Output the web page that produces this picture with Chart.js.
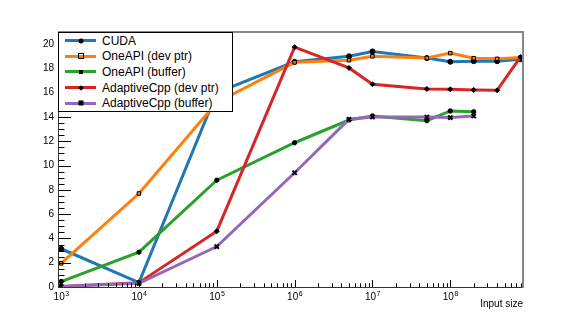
<!DOCTYPE html>
<html>
<head>
<meta charset="utf-8">
<script src="https://cdn.jsdelivr.net/npm/chart.js@4.4.0/dist/chart.umd.min.js"></script>
<style>
  body { margin: 0; background: #fff; }
  #wrap { position: relative; width: 581px; height: 319px; }
  #legend {
    position: absolute; left: 58px; top: 32px; width: 173px; height: 78px;
    border: 1px solid #000; background: #fff;
    font: 12px "Liberation Sans", Arial, sans-serif; color: #000;
  }
  .row { height: 15.6px; display: flex; align-items: center; white-space: nowrap; }
  .sample { position: relative; width: 31px; height: 3px; margin: 0 6px 0 6px; }
  .mk { position: absolute; left: 50%; top: 50%; width: 5px; height: 5px; background: #000; transform: translate(-50%, -50%); box-sizing: border-box; }
  .mk.circle { border-radius: 50%; }
  .mk.open { background: transparent; border: 1px solid #000; width: 6px; height: 6px; }
  .mk.star { width: 4px; height: 4px; }
  .mk.diamond { width: 4px; height: 4px; transform: translate(-50%, -50%) rotate(45deg); }
</style>
</head>
<body>
<div id="wrap">
  <canvas id="chart" width="581" height="319"></canvas>
  <div id="legend"></div>
</div>
<script>
// input sizes (x) and measured values per backend
const sizes = [1e3, 1e4, 1e5, 1e6, 5e6, 1e7, 5e7, 1e8, 2e8, 4e8, 8e8];
const cuda = [3.15, 0.36, 16.0, 18.55, 19.0, 19.4, 18.85, 18.55, 18.6, 18.6, 18.75];
const oneapiPtr = [1.95, 7.7, 15.2, 18.5, 18.68, 19.0, 18.86, 19.26, 18.84, 18.79, 18.9];
const oneapiBuf = [0.45, 2.87, 8.8, 11.88, 13.75, 14.08, 13.7, 14.5, 14.44];
const acppPtr = [0.05, 0.36, 4.6, 19.75, 18.04, 16.7, 16.31, 16.28, 16.23, 16.2, 18.95];
const acppBuf = [0.05, 0.3, 3.33, 9.41, 13.81, 14.0, 14.0, 13.95, 14.08];

const seriesNames = ['CUDA', 'OneAPI (dev ptr)', 'OneAPI (buffer)', 'AdaptiveCpp (dev ptr)', 'AdaptiveCpp (buffer)'];
const seriesValues = [cuda, oneapiPtr, oneapiBuf, acppPtr, acppBuf];
const colors = ['#1f77b4', '#ff7f0e', '#2ca02c', '#d62728', '#9467bd'];
const markers = ['circle', 'rect', 'star', 'rectRot', 'crossRot'];
const legendMarks = ['circle', 'open', 'star', 'diamond', ''];

const xTickValues = [1e3, 1e4, 1e5, 1e6, 1e7, 1e8];
const xTickBase = '10';
const xTickExps = ['3', '4', '5', '6', '7', '8'];
const yTickValues = [0, 2, 4, 6, 8, 10, 12, 14, 16, 18, 20];

const datasets = seriesValues.map(function (vals, i) {
  return {
    label: seriesNames[i],
    data: vals.map(function (v, j) { return { x: sizes[j], y: v }; }),
    borderColor: colors[i],
    borderWidth: 3,
    pointStyle: markers[i],
    pointRadius: i === 4 ? 3 : 2.5,
    pointBorderColor: '#000',
    pointBackgroundColor: i === 1 ? colors[1] : '#000',
    pointBorderWidth: (i === 2 || i === 4) ? 2 : 1,
    tension: 0,
    order: 4 - i
  };
});

const fontFam = '"Liberation Sans", Arial, sans-serif';

// inward ticks, frame and 10^n labels, root style
const frameTicks = {
  id: 'frameTicks',
  afterDatasetsDraw(chart) {
    const ctx = chart.ctx, a = chart.chartArea, x = chart.scales.x, y = chart.scales.y;
    ctx.save();
    ctx.strokeStyle = '#000';
    ctx.lineWidth = 1;
    ctx.beginPath();
    for (let v = 0; v <= y.max; v += 0.5) {
      const py = Math.round(y.getPixelForValue(v)) + 0.5;
      const len = v % 2 === 0 ? 13 : 6.5;
      ctx.moveTo(a.left, py);
      ctx.lineTo(a.left + len, py);
    }
    for (let e = 2; e <= 8; e++) {
      for (let m = 1; m <= 9; m++) {
        const v = m * Math.pow(10, e);
        if (v < x.min || v > x.max) continue;
        const px = Math.round(x.getPixelForValue(v)) + 0.5;
        ctx.moveTo(px, a.bottom);
        ctx.lineTo(px, a.bottom - (m === 1 ? 7 : 3.7));
      }
    }
    ctx.stroke();

    ctx.beginPath();
    ctx.strokeStyle = '#333';
    ctx.moveTo(a.left + 0.5, a.top);
    ctx.lineTo(a.left + 0.5, a.bottom + 0.5);
    ctx.lineTo(a.right, a.bottom + 0.5);
    ctx.stroke();

    ctx.beginPath();
    ctx.strokeStyle = '#888';
    ctx.lineWidth = 2;
    ctx.moveTo(a.left, a.top);
    ctx.lineTo(a.right, a.top);
    ctx.lineTo(a.right, a.bottom + 1);
    ctx.stroke();

    // x labels with superscript exponent
    ctx.fillStyle = '#000';
    ctx.textBaseline = 'top';
    ctx.textAlign = 'left';
    xTickValues.forEach(function (v, i) {
      const px = x.getPixelForValue(v);
      ctx.font = '10px ' + fontFam;
      const wb = ctx.measureText(xTickBase).width;
      ctx.font = '7px ' + fontFam;
      const we = ctx.measureText(xTickExps[i]).width;
      const left = px - (wb + we) / 2;
      ctx.font = '10px ' + fontFam;
      ctx.fillText(xTickBase, left, a.bottom + 5);
      ctx.font = '7px ' + fontFam;
      ctx.fillText(xTickExps[i], left + wb + 0.5, a.bottom + 3.5);
    });
    ctx.restore();
  }
};

const tickFont = { family: fontFam, size: 10 };

new Chart(document.getElementById('chart'), {
  type: 'line',
  data: { datasets: datasets },
  options: {
    responsive: false,
    animation: false,
    layout: { padding: { left: 0, right: 58, top: 32, bottom: 0 } },
    plugins: { legend: { display: false }, tooltip: { enabled: false } },
    scales: {
      x: {
        type: 'logarithmic',
        min: 912,
        max: 8.6e8,
        grid: { display: false, drawTicks: false },
        border: { display: false },
        afterBuildTicks: function (s) { s.ticks = xTickValues.map(function (v) { return { value: v }; }); },
        afterFit: function (s) { s.height = 32; },
        ticks: { display: false },
        title: {
          display: true, text: 'Input size', align: 'end', color: '#000',
          font: tickFont, padding: { top: 0, bottom: 9 }
        }
      },
      y: {
        min: 0,
        max: 21,
        grid: { display: false, drawTicks: false },
        border: { display: false },
        afterBuildTicks: function (s) { s.ticks = yTickValues.map(function (v) { return { value: v }; }); },
        afterFit: function (s) { s.width = 58; },
        ticks: { color: '#000', font: tickFont, padding: 4 }
      }
    }
  },
  plugins: [frameTicks]
});

// legend inside the frame, top left
const legend = document.getElementById('legend');
seriesNames.forEach(function (name, i) {
  const row = document.createElement('div');
  row.className = 'row';
  const sample = document.createElement('span');
  sample.className = 'sample';
  sample.style.background = colors[i];
  const mk = document.createElement('span');
  mk.className = 'mk ' + legendMarks[i];
  sample.appendChild(mk);
  const txt = document.createElement('span');
  txt.textContent = name;
  row.appendChild(sample);
  row.appendChild(txt);
  legend.appendChild(row);
});
</script>
</body>
</html>
